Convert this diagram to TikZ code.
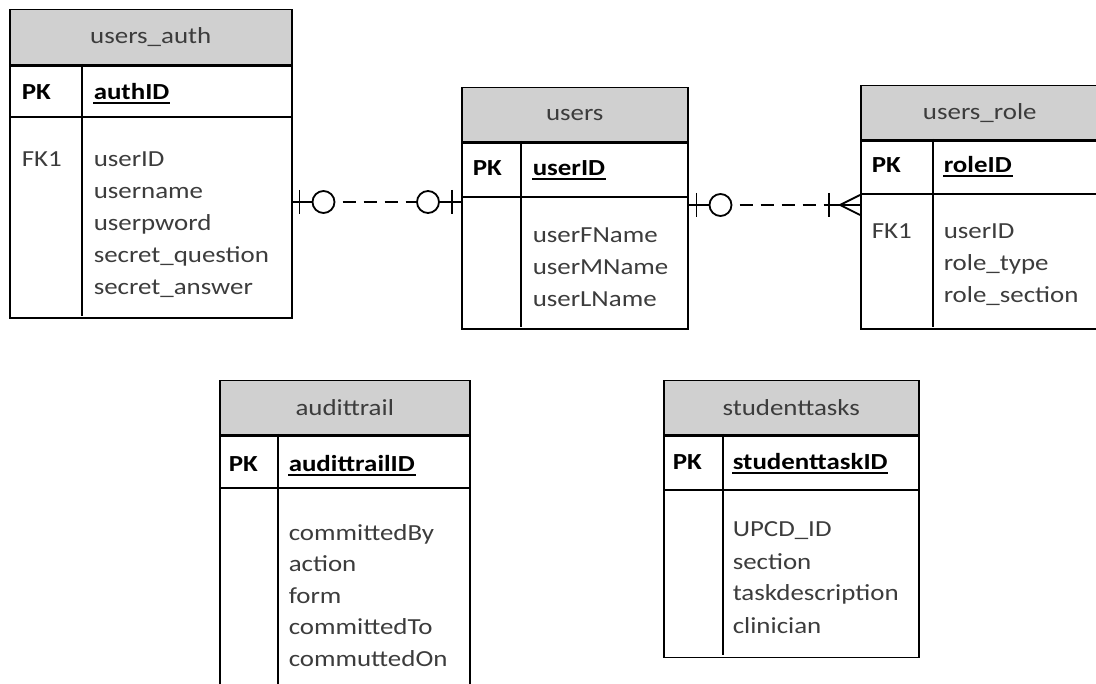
\documentclass[tikz,border=0pt]{standalone}
\usepackage{fontspec}
\setmainfont{Carlito}[FakeStretch=1.17]
\definecolor{headgray}{RGB}{208,208,208}
\definecolor{txtgray}{RGB}{60,60,60}
\newcommand\tabfont{\fontsize{23}{28}\selectfont}
\tikzset{
  tblhead/.style={draw, fill=headgray, anchor=north west, inner sep=0pt, text=txtgray, font=\tabfont},
  tblbody/.style={draw, anchor=north west, inner sep=0pt},
  keytxt/.style={anchor=base west, inner sep=0pt, font=\tabfont\bfseries},
  fldtxt/.style={anchor=base west, inner sep=0pt, text=txtgray, font=\tabfont},
  rel/.style={line width=1.8pt},
  reldash/.style={line width=1.8pt, dash pattern=on 13pt off 8pt, dash phase=13pt}
}
\begin{document}
\begin{tikzpicture}[x=1pt,y=-1pt,line width=1.5pt]
\useasboundingbox (0,0) rectangle (1096,684);

% users_auth
\node[tblhead, minimum width=282pt, minimum height=55pt] (auth) at (9,9) {users\_auth};
\node[tblbody, minimum width=282pt, minimum height=252pt] (authbody) at (auth.south west) {};
\draw (9,117) -- (291,117);
\draw (82,64) -- (82,316);
\node[keytxt] (authpk) at (21,100) {PK};
\node[keytxt] (authid) at (93,100) {authID};
\node[fldtxt] (authfk) at (21,167) {FK1};
\foreach \f [count=\i] in {userID,username,userpword,secret\_question,secret\_answer}
  \node[fldtxt] (authf\i) at (93,{167+32*(\i-1)}) {\f};

% users
\node[tblhead, minimum width=226pt, minimum height=54pt] (users) at (461,87) {users};
\node[tblbody, minimum width=226pt, minimum height=186pt] (usersbody) at (users.south west) {};
\draw (461,197) -- (687,197);
\draw (521,141) -- (521,327);
\node[keytxt] (userspk) at (472,176) {PK};
\node[keytxt] (usersid) at (532,176) {userID};
\foreach \f [count=\i] in {userFName,userMName,userLName}
  \node[fldtxt] (usersf\i) at (532,{243+32*(\i-1)}) {\f};

% users_role
\node[tblhead, minimum width=238pt, minimum height=54pt] (role) at (860,85) {users\_role};
\node[tblbody, minimum width=238pt, minimum height=188pt] (rolebody) at (role.south west) {};
\draw (860,194) -- (1098,194);
\draw (933,139) -- (933,327);
\node[keytxt] (rolepk) at (871,173) {PK};
\node[keytxt] (roleid) at (943,173) {roleID};
\node[fldtxt] (rolefk) at (871,239) {FK1};
\foreach \f [count=\i] in {userID,role\_type,role\_section}
  \node[fldtxt] (rolef\i) at (943,{239+32*(\i-1)}) {\f};

% audittrail
\node[tblhead, minimum width=250pt, minimum height=54pt] (audit) at (219,380) {audittrail};
\node[tblbody, minimum width=250pt, minimum height=266pt] (auditbody) at (audit.south west) {};
\draw (219,488) -- (469,488);
\draw (278,434) -- (278,700);
\node[keytxt] (auditpk) at (228,472) {PK};
\node[keytxt] (auditid) at (288,472) {audittrailID};
\foreach \f [count=\i] in {committedBy,action,form,committedTo,commuttedOn}
  \node[fldtxt] (auditf\i) at (288,{540+31.5*(\i-1)}) {\f};

% studenttasks
\node[tblhead, minimum width=255pt, minimum height=54pt] (task) at (663,380) {studenttasks};
\node[tblbody, minimum width=255pt, minimum height=221pt] (taskbody) at (task.south west) {};
\draw (663,490) -- (918,490);
\draw (723,434) -- (723,655);
\node[keytxt] (taskpk) at (672,470) {PK};
\node[keytxt] (taskid) at (732,470) {studenttaskID};
\foreach \f [count=\i] in {UPCD\_ID,section,taskdescription,clinician}
  \node[fldtxt] (taskf\i) at (732,{537+32*(\i-1)}) {\f};

% primary keys underlined
\foreach \n in {authid,usersid,roleid,auditid,taskid}
  \draw[line width=1.4pt] ([yshift=-3pt]\n.base west) -- ([yshift=-3pt]\n.base east);

% users_auth -- users (one to one)
\coordinate (a1) at (authbody.east |- 0,202);
\coordinate (a2) at (usersbody.west |- 0,202);
\draw[rel] (a1) -- ([xshift=20pt]a1);
\draw[rel] ([xshift=7pt]a1) ++(0,-12) -- ++(0,24);
\draw[rel] ([xshift=31pt]a1) circle (11pt);
\draw[reldash] ([xshift=42pt]a1) -- ([xshift=-44pt]a2);
\draw[rel] ([xshift=-33pt]a2) circle (11pt);
\draw[rel] ([xshift=-22pt]a2) -- (a2);
\draw[rel] ([xshift=-9pt]a2) ++(0,-12) -- ++(0,24);

% users -- users_role (one to many)
\coordinate (b1) at (usersbody.east |- 0,205);
\coordinate (b2) at (rolebody.west |- 0,205);
\draw[rel] (b1) -- ([xshift=21pt]b1);
\draw[rel] ([xshift=8pt]b1) ++(0,-12) -- ++(0,24);
\draw[rel] ([xshift=32pt]b1) circle (11pt);
\draw[reldash] ([xshift=43pt]b1) -- ([xshift=-31pt]b2);
\draw[rel] ([xshift=-31pt]b2) -- (b2);
\draw[rel] ([xshift=-31pt]b2) ++(0,-12) -- ++(0,24);
\draw[rel] ([xshift=-20pt]b2) -- ([yshift=10pt]b2);
\draw[rel] ([xshift=-20pt]b2) -- ([yshift=-10pt]b2);
\end{tikzpicture}
\end{document}
